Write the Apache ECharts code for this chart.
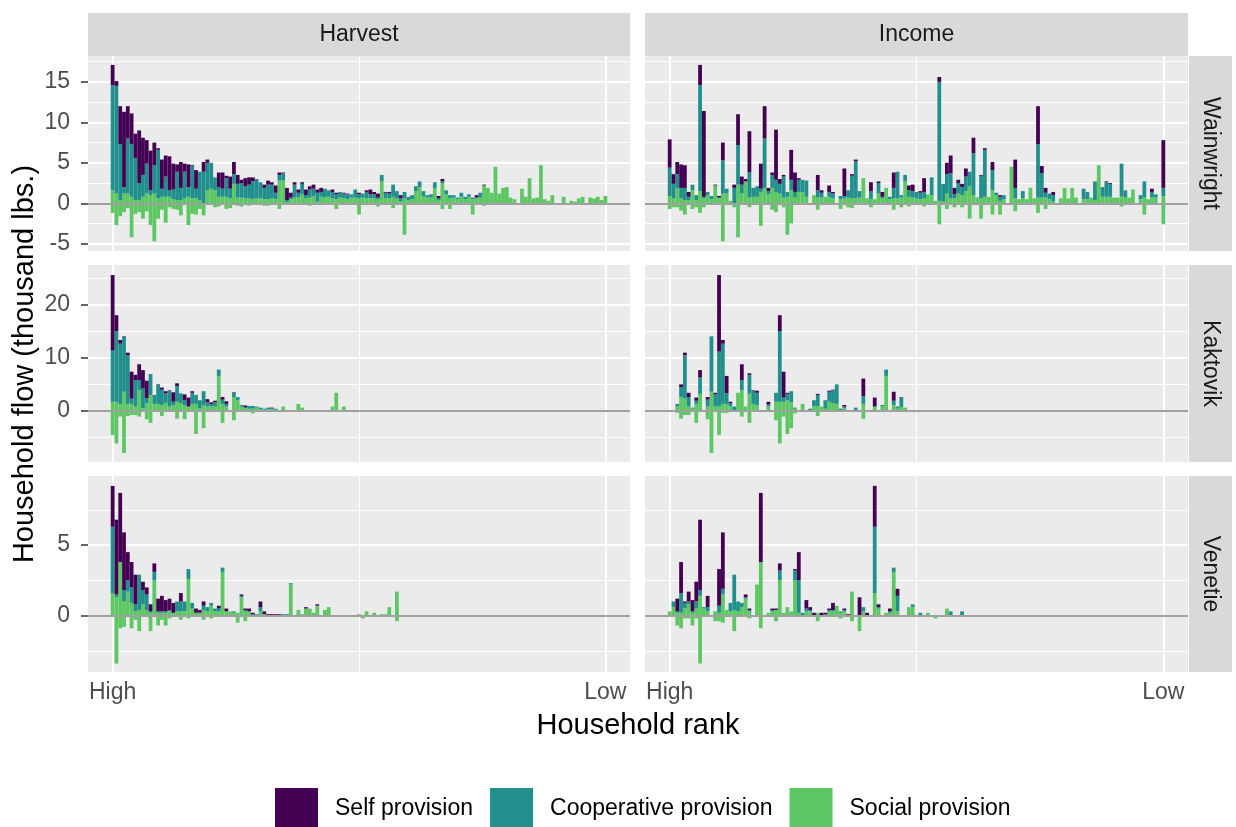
<!DOCTYPE html>
<html>
<head>
<meta charset="utf-8">
<title>Household flows</title>
<script src="https://cdn.jsdelivr.net/npm/echarts@6/dist/echarts.min.js"></script>
<style>
  html, body { margin: 0; padding: 0; background: #fff; }
  #chart { width: 1236px; height: 827px; }
</style>
</head>
<body>
<div id="chart"></div>
<script>
// ---- data (thousand lbs.), one value per household, ranked High -> Low ----
var villages = ['Wainwright', 'Kaktovik', 'Venetie'];
var flowTypes = ['Harvest', 'Income'];
var legendNames = ['Self provision', 'Cooperative provision', 'Social provision'];
var rankLabels = ['High', 'Low'];

// y tick labels per village row
var yTicksW = [-5, 0, 5, 10, 15];
var yTicksK = [0, 10, 20];
var yTicksV = [0, 5];

// Wainwright - Harvest (131 households)
var wainHarvSelf = [2.5,0.6,4.7,9.3,4.0,3.8,3.0,6.5,4.6,2.9, 4.9,2.8,0.2,3.6,2.6,4.2,3.2,0.9,3.2,1.0, 2.8,0.1,2.3,0,1.2,0.4,0,0,1.8,2.0,
  0.3,1.5,1.5,1.1,0.4,1.0,0.9,0.5,0,0, 0.4,0.5,0.3,0.9,0.3,0.1,1.5,0.6,0.3,0.4, 0.2,0.7,0.4,0.5,0.4,0.5,0,0,0.3,0.2,
  0,0.1,0.1,0,0,0.2,0,0.2,0.6,0.3, 0.5,0,0.1,0.2,0,0,0.4,0,0,0, 0,0,0,0,0,0,0.3,0.3,0,0, 0,0,0,0,0,0,0.3,0,0.1,0,
  0,0,0,0,0,0,0,0,0,0, 0,0,0,0,0,0,0,0,0,0, 0,0,0,0,0,0,0,0,0,0, 0];
var wainHarvCoop = [13.0,13.3,6.9,0.8,6.8,6.5,5.2,2.1,2.7,3.7, 0.6,3.5,6.0,1.0,2.5,0.8,1.2,3.5,1.5,3.3, 1.2,4.0,1.2,3.5,3.9,3.4,3.2,1.6,1.2,1.0,
  2.3,1.2,1.2,1.7,1.8,1.5,1.7,2.2,2.4,2.0, 1.4,1.8,1.7,0.8,0.7,0.9,0.3,0.2,1.6,0.6, 1.3,0.4,1.0,0.9,1.1,0.6,1.1,0.8,0.8,0.6,
  0.7,0.6,0.6,0.4,1.0,0.5,0.5,0.8,0.5,0.5, 0.2,0.8,0.7,0.6,1.5,0.9,0.4,0.8,0.4,0.5, 0.6,0.7,0.6,0.3,0.4,0.7,0.2,0.2,0.5,0.4, 0.3,0.2,0.5,0.3,0.3,0.2,0,0.6,0,0,
  0,0,0,0,0,0,0,0,0,0, 0,0,0,0,0,0,0,0,0,0, 0,0,0,0,0,0,0,0,0,0, 0];
var wainHarvSocial = [1.6,1.2,0.4,1.2,1.2,0.8,0.4,0.4,0.8,1.2, 1.0,1.2,0.6,0.8,0.8,0.8,0.5,0.4,0.4,0.6, 0.8,0.6,0.6,0.4,0,1.6,1.8,1.6,0.8,0.8,
  0.8,0.6,2.4,0.7,0.7,0.6,0.6,0.5,0.6,0.6, 0.5,0.5,0.6,0.5,2.8,2.8,0.1,0.5,0.7,0.7, 1.1,0.6,0.7,0.9,0.2,0.8,0.7,0.8,0.6,0.5,
  0.7,0.6,0.5,0.7,0.7,0.6,0.7,0.6,0.6,0.6, 0.5,2.7,0.6,0.6,0.8,0.6,0.2,0.6,0.4,0.5, 1.5,2.0,0.9,0.7,0.7,1.9,0.4,2.5,1.1,0.6, 0.7,0.5,0.8,0.5,0.8,0.5,0.7,0.7,2.2,1.9,
  1.3,4.5,1.2,1.9,2.0,0.7,0.5,0,1.8,0.8, 3.1,0.6,0.7,4.7,0.5,0.3,1.0,0,0,0.8, 0,0.3,0.2,0.6,0.8,0,0.7,0.6,0.8,0.4, 0.9];
var wainHarvSocialOut = [-1.2,-2.7,-1.6,-1.1,-0.6,-4.2,-1.3,-1.1,-1.9,-1.0, -2.7,-4.7,-1.9,-0.8,-2.4,-0.5,-0.7,-0.8,-1.5,-0.2, -2.7,-1.3,-1.4,-0.7,-1.5,-0.2,-0.2,-0.5,-0.4,-0.2,
  -0.7,-0.6,-0.2,-0.3,-0.4,0,-0.3,-0.2,0,0, -0.3,-0.3,0,-0.2,-0.7,-0.2,0,0,0,0, 0,0,-0.3,0,0,-0.2,0,0,0,-0.7,
  0,0,0,0,0,-1.4,0,0,0,0, -0.4,0,0,0,-0.6,0,0,-3.9,0,0, 0,0,0,0,0,0,-0.1,-0.7,0,-0.7, 0,0,0,0,0,-1.4,0,0,-0.3,0,
  0,0,-0.2,0,0,0,0,0,0,0, 0,0,0,0,0,0,0,-0.2,0,0, 0,0,0,0,0,0,0,0,0,0, 0];

// Wainwright - Income (131 households)
var wainIncSelf = [3.5,1.2,1.5,2.9,2.8,0.6,0,0,2.5,10.6, 0,0,0.1,0.2,2.2,0,0,0.4,3.8,1.0, 0.3,5.1,0,0,3.1,4.0,0.4,0.3,6.2,0.6,
  0.2,0,3.7,2.4,0.2,0,0,0,0,1.9, 0.3,0,0.8,0.2,0,0,3.4,0,0.2,0.2, 0,0,0,1.1,0,0.2,0.6,0,0,1.9,
  0,0,0,0.6,0.8,0,0.2,1.7,0,0, 0,0.6,0,1.4,2.2,0.8,0.4,0.4,1.0,0, 1.9,0,0.1,0.2,0,1.0,0,0.2,0,0, 0,3.5,0,0,0,0,0,4.7,0.9,0.6,
  0,0.4,0,0,0,0,0,0,0,0, 0,0,0,0,0,0.1,0.1,0,0,0, 0,0,0,0,0,0,0,0.4,0,0, 5.9];
var wainIncCoop = [3.5,1.8,1.8,1.3,1.5,0.4,0.7,0.6,13.1,0.2, 0.4,0.4,0,0.1,4.1,0.6,0,1.9,4.9,1.1, 0,3.1,1.1,1.3,0.4,6.1,0.4,1.6,1.5,1.2,
  2.6,0.6,1.3,0.7,1.5,1.5,2.0,0,0,0.9, 0.6,0,0.6,0.6,0,0.4,0.3,0.9,2.8,4.6, 0.8,0,0,1.0,0,1.3,0.2,0,0.3,1.3,
  3.3,0.3,0.8,0.8,0.8,0.8,0.8,0.8,0,2.2, 0,14.7,2.2,2.4,3.1,0.5,1.3,1.0,1.8,1.8, 5.2,0.1,2.8,5.8,0,2.5,0.3,0.5,0.5,0, 0,1.3,0,0.9,0,0,0,6.6,3.0,0.6,
  0.7,0.8,0,0,0,0,0,0,0,1.3, 0.9,0,2.3,0,1.2,1.8,1.6,0,0,4.0, 0.9,0,0,0,0.5,2.0,0,0.7,0.4,0, 1.0];
var wainIncSocial = [0.9,0.6,1.8,0.6,0.4,0.4,1.6,0.4,1.5,0.6, 1.0,0.5,2.2,0.6,1.2,1.2,0.3,0,2.3,1.2, 2.7,0.7,0.8,0.8,1.4,1.9,1.1,1.9,1.4,1.2,
  0.7,0.8,1.6,0.7,1.4,1.4,0.8,0,1.0,0.7, 0.7,0.8,0.8,0.6,0,0.5,0.6,0.7,0.6,0.6, 0.7,3.1,0.6,0.5,0.5,1.2,0.6,1.9,0.5,0.6,
  0.6,0.7,2.7,0.8,0.7,0.6,0.5,0.6,1.1,1.0, 0.3,0.3,0.2,1.2,0.6,0.6,1.2,1.0,1.5,2.1, 1.0,0.6,0.6,0.8,0.8,1.6,1.0,0.3,0.5,0, 4.5,0.6,0.5,0.6,0.5,1.9,0.6,0.7,0.7,0.7,
  0.5,0.2,0,0.6,1.9,0.6,1.9,0.7,0,0.5, 0.5,0.7,0.4,4.7,0.8,0.8,0.8,0.7,0.7,0.9, 0.7,0.7,1.7,0,0.5,0.7,0.5,0.7,0.7,0, 0.9];
var wainIncSocialOut = [-0.7,-0.5,-0.5,-0.9,-1.4,0,-0.7,-0.5,-1.2,-0.5, 0,0,0,0,-4.7,0,0,-0.5,-4.2,0, 0,-0.5,0,0,-2.8,0,0,-0.8,-1.1,0,
  -0.5,-3.9,-2.5,0,0,0,0,0,0,-0.8, 0,0,0,0,0,-0.7,0,-0.5,-0.6,0, 0,0,0,-0.5,0,0,0,0,0,-0.8,
  0,-0.5,0,-0.4,0,0,0,-0.4,0,0, 0,-2.6,0,-0.7,0,-0.5,0,-0.5,0,-1.9, 0,0,-1.9,0,0,-1.4,0,-1.4,0,0, 0,-1.0,0,0,0,0,0,-1.2,0,-0.7,
  0,0,0,0,0,0,0,0,0,0, 0,0,0,0,0,0,0,0,0,-0.4, 0,0,0,0,0,-1.4,0,0,0,0, -2.6];

// Kaktovik - Harvest (63 households)
var kakHarvSelf = [14.3,3.0,0.7,0.1,0.5,5.1,1.0,3.0,3.5,3.3, 0.1,0,0.1,0.4,0.4,0.1,1.8,0.5,0,1.1, 1.6,0.3,0,0,0,0.6,0.3,0.3,0,0.5,
  0.5,0,0.1,0,0,0.3,0,0,0,0, 0,0,0.1,0,0,0,0,0,0,0, 0,0,0,0,0,0,0,0,0,0, 0,0,0];
var kakHarvCoop = [9.7,13.4,11.4,10.4,9.2,1.0,5.0,1.9,3.7,1.0, 3.8,1.7,3.6,2.9,1.8,3.0,0.6,3.0,1.9,1.0, 0.2,2.1,1.7,1.6,2.6,0.8,0.5,0.8,1.2,0.8,
  0.5,0,0.8,0.6,0.3,0.2,0.5,0.5,0.2,0.3, 0.2,0.3,0.2,0.2,0,0,0,0,0,0, 0,0,0,0,0,0,0,0,0,0, 0,0,0];
var kakHarvSocial = [1.7,1.7,1.3,3.6,1.3,1.3,0.8,3.9,0.5,1.4, 3.0,1.3,1.3,1.1,1.5,0.8,1.1,1.7,1.4,1.0, 0.7,1.3,1.3,0.4,1.1,0.8,0.8,0.8,6.6,1.3,
  0.8,0,2.6,2.0,0.8,0.5,0.4,0.4,0.6,0.3, 0.2,0.3,0.3,0.2,0,0.8,0,0,0,1.3, 0.6,0,0,0,0,0,0,0,0.8,3.4, 0,0.8,0];
var kakHarvSocialOut = [-4.6,-6.2,-1.1,-8.0,-1.0,-0.8,-0.8,-1.1,0,-1.6, -2.3,0,0,-1.0,0,0,0,-1.5,0,-1.6, 0,0,-4.4,0,-3.3,0,0,0,0,-2.3,
  0,0,-1.8,0,0,0,0,-0.5,0,0, 0,0,0,0,0,0,0,0,0,0, 0,0,0,0,0,0,0,0,0,0, 0,0,0];

// Kaktovik - Income (63 households)
var kakIncSelf = [0,0,0,0.5,0.5,0.8,0,0.6,1.4,0, 0.5,0,0.3,14.5,0.7,3.3,0.3,0,0,3.0, 0,0.3,0.1,0.4,0,0,0.5,0,0,3.0,
  4.9,0.2,0,0,0,0,0,0,0,0.2, 0,0,0.2,0.1,0,0,0.3,0,0,0, 0,3.3,0,0,1.6,0,0,0,0,1.7, 0,0.1,0];
var kakIncCoop = [0,0,0.5,1.9,8.2,1.8,0.2,0.6,3.1,0, 1.3,10.5,2.3,10.4,11.4,2.0,0.6,0.8,0,1.9, 0,3.6,2.5,2.3,0,0,0.4,0,1.7,13.4,
  0.8,1.2,2.1,0.2,0,0,0,0.4,1.1,2.1, 0,1.6,1.9,2.5,3.7,0.4,0.3,0,0,0.6, 0,1.5,0,0,0.2,0,0.2,1.2,0,0.8, 0.4,1.8,0];
var kakIncSocial = [0,0,0.8,2.6,2.3,0.8,0.4,1.3,3.2,0, 0.8,3.6,0.8,0.8,1.3,1.3,0.8,0,3.4,3.9, 0.8,3.2,1.3,1.1,0,0,0.8,0,1.7,1.7,
  1.7,2.0,1.6,0.4,0,1.3,0,0,0.9,0.9, 0.8,0.4,1.7,1.4,1.3,0,0.5,0,0,0, 0,1.3,0,0,0.7,0,0.9,6.6,0,1.1, 0.4,0.7,0.6];
var kakIncSocialOut = [0,0,-0.4,-1.5,-0.8,-0.8,0,-2.3,0,0, -1.6,-8.0,0,-4.6,-0.4,-0.4,0,0,0,-1.1, 0,-2.3,0,0,0,0,0,0,-1.8,-6.2,
  -1.1,-4.4,-3.3,-0.5,0,0,0,0,0,-1.0, 0,0,0,0,0,0,0,0,0,0, 0,-1.5,0,0,0,0,0,0,0,0, 0,0,0];

// Venetie - Harvest (78 households)
var venHarvSelf = [2.9,5.3,4.9,4.1,2.0,1.8,2.1,0,0.6,0.5, 0.5,0.6,0.9,1.1,0.8,0.8,0.7,0,0.6,0, 0,0,0.3,0.2,0.3,0,0,0,0.2,0,
  0.2,0,0,0,0.1,0.1,0.2,0.1,0,0.4, 0.2,0.1,0.1,0.1,0.1,0,0,0,0,0, 0,0.1,0,0,0.1,0,0,0,0,0, 0,0,0,0,0,0,0,0,0,0, 0,0,0,0,0,0,0,0];
var venHarvCoop = [4.7,0.2,0,0.8,0.8,1.1,0.5,2.5,1.0,1.1, 0.1,0.6,0.1,0.1,0.1,0.1,0,0.7,0.7,0.7, 0.7,0.4,0,0,0.3,0.3,0.2,0.2,0.2,0.3,
  0,0,0.1,0,0.1,0.1,0,0.1,0.1,0.3, 0,0,0,0,0,0.1,0.1,0.1,0,0, 0,0,0,0,0,0,0,0,0,0, 0,0,0,0,0,0,0,0,0,0, 0,0,0,0,0,0,0,0];
var venHarvSocial = [1.6,1.3,3.8,1.0,1.7,0.9,0.3,0.4,0.8,0.4, 0.2,2.5,0.2,0.2,0.2,0.3,0.2,0.3,0.3,0.3, 2.6,0.5,0.2,0.2,0.4,0.3,0.7,0.3,0.3,3.1,
  0.3,0.3,0.2,0.2,1.3,0.3,0.3,0,0,0.3, 0.1,0,0,0,0,0,0,2.2,0,0.4, 0.1,0.5,0.5,0.2,0.7,0,0.4,0.6,0,0, 0,0,0,0,0,0.1,0,0.3,0,0.2, 0,0.1,0.1,0.6,0,1.7,0,0];
var venHarvSocialOut = [0,-3.4,-0.9,-0.8,-0.1,-0.9,-0.3,-1.1,0,0, -1.1,0,-0.7,-0.3,-0.7,-0.2,0,0,-0.3,0, -0.2,0,0,0,-0.3,0,-0.2,0,0,-0.1,
  0,-0.1,0,-0.5,0,-0.4,0,0,0,-0.1, 0,0,0,0,0,0,0,0,0,0, 0,0,0,0,0,0,0,0,0,0, 0,0,0,0,0,0,-0.2,0,0,0, 0,0,0,0,0,-0.4,0,0];

// Venetie - Income (78 households)
var venIncSelf = [0,0,0.9,2.2,0.1,0.7,0.8,1.4,5.0,0, 0.8,0,0,2.6,4.0,0,0,0,0,0, 0.2,0.1,0,0,4.9,0,0,0.1,0.1,0.5,
  0,0,0,0.1,2.0,0,0.6,0.2,0.2,0, 0.2,0.1,0.1,0.5,0,0,0.1,0.1,0,0, 1.3,0,0.2,0,2.9,0.2,0,0,0.2,0, 0.5,0,0,0,0,0,0,0,0,0, 0,0,0,0,0,0,0,0];
var venIncCoop = [0,0.4,0.1,1.4,0.4,0.2,0.1,0.5,0.4,0.1, 0.3,0,0,0.5,0.4,0,0.6,2.5,0.7,0.3, 0.1,0.1,0,0,0,0,0,0.1,0,0.7,
  0,0,0,0.7,2.3,0.2,0.2,0.1,0,0, 0,0.1,0.1,0.1,0,0.1,0.1,0,0,0, 0,0.3,0,0,4.7,0.1,0,0,0.1,0.3, 1.1,0,0,0,0.2,0,0.2,0,0,0, 0,0,0,0,0.3,0,0,0.3];
var venIncSocial = [0.3,0.6,0.2,0.2,0.5,0.8,0.2,0.5,1.4,0.5, 0.3,0,0.3,0.2,1.5,0.4,0.3,0.4,0.3,0.6, 1.2,0.3,0,2.2,3.8,0,0.2,0.3,0.4,2.5,
  0.2,0.6,0.3,2.5,0.2,0,0.3,0.3,0,0.2, 0,0,0.3,0.3,0.7,0.2,0.3,0,1.7,0, 0,0.3,0,0,1.6,0.5,0,0.2,0.2,3.1, 0.3,0,0,0.6,0.6,0,0,0,0.2,0, 0,0,0,0.5,0,0,0,0];
var venIncSocialOut = [0,0,-0.7,-0.9,-0.2,-0.2,-0.7,-0.2,-3.4,0, 0,0,-0.4,-0.4,-0.5,0,0,-1.1,0,0, 0,-0.2,0,0,-0.9,0,0,0,-0.4,0,
  0,0,0,0,0,0,0,0,0,-0.4, 0,0,0,0,0,-0.2,0,0,-0.4,0, -1.1,0,0,0,0,0,0,0,0,0, 0,0,0,-0.1,-0.1,0,0,0,0,0, -0.2,0,0,0,0,0,0,0];

// ---- layout ----
var colors = ['#440154', '#21908C', '#5DC863'];
var font = 'Liberation Sans, Arial, Helvetica, sans-serif';
var colLeft = [88, 645], colWidth = [542, 543];
var rowTop = [56, 265, 476], rowHeight = [195, 197, 196];
var yRange = [[-5.9, 18.2], [-9.7, 27.6], [-4.0, 9.9]];
var yTicks = [yTicksW, yTicksK, yTicksV];
var yMinor = [[-2.5, 2.5, 7.5, 12.5, 17.5], [-5, 5, 15, 25], [-2.5, 2.5, 7.5]];

// shared rank scale: the longest village sets it, with ~5% empty room each side
var nMax = wainHarvSelf.length;
var padSlots = 6;
var nSlots = nMax + 2 * padSlots;
var firstSlot = padSlots, lastSlot = padSlots + nMax - 1;
var rankCats = [];
for (var s = 0; s < nSlots; s++) {
  rankCats.push(s === firstSlot ? rankLabels[0] : (s === lastSlot ? rankLabels[1] : ''));
}
function isEndSlot(i) { return i === firstSlot || i === lastSlot; }

var panels = [
  [[wainHarvSelf, wainHarvCoop, wainHarvSocial, wainHarvSocialOut], [wainIncSelf, wainIncCoop, wainIncSocial, wainIncSocialOut]],
  [[kakHarvSelf, kakHarvCoop, kakHarvSocial, kakHarvSocialOut], [kakIncSelf, kakIncCoop, kakIncSocial, kakIncSocialOut]],
  [[venHarvSelf, venHarvCoop, venHarvSocial, venHarvSocialOut], [venIncSelf, venIncCoop, venIncSocial, venIncSocialOut]]
];

function pairs(arr) {
  return arr.map(function (v, i) { return [i + padSlots, v]; });
}

var grids = [], xAxes = [], yAxes = [], series = [], graphics = [];

for (var r = 0; r < 3; r++) {
  for (var c = 0; c < 2; c++) {
    var idx = r * 2 + c;
    var bw = colWidth[c] / nSlots;
    grids.push({
      left: colLeft[c], top: rowTop[r], width: colWidth[c], height: rowHeight[r],
      show: true, backgroundColor: '#EBEBEB', borderWidth: 0
    });
    xAxes.push({
      gridIndex: idx, type: 'category', data: rankCats, boundaryGap: true,
      axisLine: { show: false }, splitLine: { show: false },
      axisTick: { show: r === 2, alignWithLabel: true, interval: function (i) { return isEndSlot(i); },
        length: 7, lineStyle: { color: '#333', width: 1.5 } },
      axisLabel: { show: r === 2, interval: function (i) { return isEndSlot(i); }, margin: 9,
        color: '#4D4D4D', fontSize: 23, fontFamily: font }
    });
    yAxes.push({
      gridIndex: idx, type: 'value', min: yRange[r][0], max: yRange[r][1],
      axisLine: { show: false }, splitLine: { show: false },
      axisTick: { show: c === 0, customValues: yTicks[r], length: 7, lineStyle: { color: '#333', width: 1.5 } },
      axisLabel: { show: c === 0, customValues: yTicks[r], margin: 18, color: '#4D4D4D', fontSize: 23, fontFamily: font }
    });

    // panel grid lines
    var gl = [];
    yTicks[r].forEach(function (v) { gl.push({ yAxis: v, lineStyle: { color: '#fff', width: 2, type: 'solid' } }); });
    yMinor[r].forEach(function (v) { gl.push({ yAxis: v, lineStyle: { color: '#fff', width: 1, type: 'solid' } }); });
    gl.push({ xAxis: firstSlot, lineStyle: { color: '#fff', width: 2, type: 'solid' } });
    gl.push({ xAxis: lastSlot, lineStyle: { color: '#fff', width: 2, type: 'solid' } });
    gl.push({ xAxis: (firstSlot + lastSlot) / 2, lineStyle: { color: '#fff', width: 1, type: 'solid' } });
    series.push({
      type: 'line', xAxisIndex: idx, yAxisIndex: idx, data: [], silent: true,
      markLine: { silent: true, z: 1, symbol: 'none', animation: false, label: { show: false }, emphasis: { disabled: true }, data: gl }
    });

    var d = panels[r][c];
    var stackName = 'p' + idx;
    // bottom to top: social, cooperative, self; negative social below zero
    var order = [[2, 2], [1, 1], [0, 0], [3, 2]];
    order.forEach(function (o) {
      series.push({
        type: 'bar', name: legendNames[o[1]], xAxisIndex: idx, yAxisIndex: idx,
        stack: stackName, barWidth: bw, data: pairs(d[o[0]]),
        itemStyle: { color: colors[o[1]] }, emphasis: { disabled: true }, z: 2
      });
    });

    // zero line on top of the bars
    series.push({
      type: 'line', xAxisIndex: idx, yAxisIndex: idx, data: [], silent: true,
      markLine: { silent: true, z: 6, symbol: 'none', animation: false, label: { show: false }, emphasis: { disabled: true },
        data: [{ yAxis: 0, lineStyle: { color: '#A0A0A0', width: 2, type: 'solid' } }] }
    });
  }
}

// strips
for (var c2 = 0; c2 < 2; c2++) {
  graphics.push({ type: 'rect', shape: { x: colLeft[c2], y: 13, width: colWidth[c2], height: 43 }, style: { fill: '#D9D9D9' }, silent: true });
  graphics.push({ type: 'text', x: colLeft[c2] + colWidth[c2] / 2, y: 34.5, silent: true,
    style: { text: flowTypes[c2], font: '23px ' + font, fill: '#1A1A1A', textAlign: 'center', textVerticalAlign: 'middle', align: 'center', verticalAlign: 'middle' } });
}
for (var r2 = 0; r2 < 3; r2++) {
  graphics.push({ type: 'rect', shape: { x: 1189, y: rowTop[r2], width: 43, height: rowHeight[r2] }, style: { fill: '#D9D9D9' }, silent: true });
  graphics.push({ type: 'text', x: 1210.5, y: rowTop[r2] + rowHeight[r2] / 2, rotation: -Math.PI / 2, silent: true,
    style: { text: villages[r2], font: '23px ' + font, fill: '#1A1A1A', textAlign: 'center', textVerticalAlign: 'middle', align: 'center', verticalAlign: 'middle' } });
}
// axis titles
graphics.push({ type: 'text', x: 25, y: 364, rotation: Math.PI / 2, silent: true,
  style: { text: 'Household flow (thousand lbs.)', font: '29px ' + font, fill: '#000', textAlign: 'center', textVerticalAlign: 'middle', align: 'center', verticalAlign: 'middle' } });
graphics.push({ type: 'text', x: 638, y: 726, silent: true,
  style: { text: 'Household rank', font: '29px ' + font, fill: '#000', textAlign: 'center', textVerticalAlign: 'middle', align: 'center', verticalAlign: 'middle' } });

var chart = echarts.init(document.getElementById('chart'), null, { renderer: 'canvas' });
chart.setOption({
  animation: false,
  backgroundColor: '#fff',
  textStyle: { fontFamily: font },
  grid: grids,
  xAxis: xAxes,
  yAxis: yAxes,
  legend: {
    data: legendNames, left: 275, top: 788, orient: 'horizontal', padding: 0,
    itemWidth: 43, itemHeight: 42, itemGap: 17, icon: 'rect', selectedMode: false,
    textStyle: { fontSize: 23, color: '#000', fontFamily: font, padding: [0, 0, 0, 12] }
  },
  graphic: graphics,
  series: series
});
</script>
</body>
</html>
